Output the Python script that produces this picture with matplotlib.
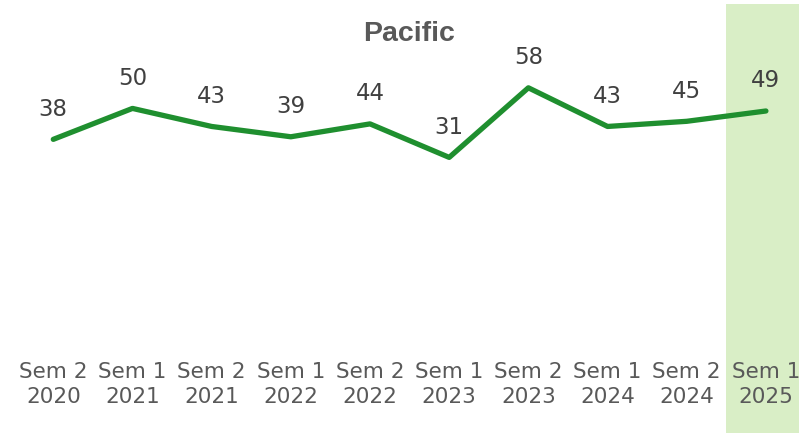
import matplotlib
matplotlib.use("Agg")
import matplotlib.pyplot as plt

categories = ["Sem 2\n2020", "Sem 1\n2021", "Sem 2\n2021", "Sem 1\n2022", "Sem 2\n2022",
              "Sem 1\n2023", "Sem 2\n2023", "Sem 1\n2024", "Sem 2\n2024", "Sem 1\n2025"]
values = [38, 50, 43, 39, 44, 31, 58, 43, 45, 49]
title = "Pacific"
highlight_index = 9

W, H = 799, 433
fig = plt.figure(figsize=(W / 100, H / 100), dpi=100)
left_px, right_px = 13.7, 805.5
top_px, bottom_px = 4, 433
ax = fig.add_axes([left_px / W, 1 - bottom_px / H, (right_px - left_px) / W, (bottom_px - top_px) / H])
ax.set_xlim(-0.5, len(values) - 0.5)
ax.set_ylim(-75.9, 90.5)

ax.axvspan(highlight_index - 0.5, highlight_index + 0.5, color="#d9eec6", zorder=0, lw=0)

x = list(range(len(values)))
ax.plot(x, values, color="#1f8f2f", lw=3.8, solid_capstyle="round", zorder=3)

for xi, v in zip(x, values):
    ax.annotate(str(v), (xi, v), xytext=(0, 17), textcoords="offset points",
                ha="center", va="baseline", fontsize=16.5, color="#404040",
                family="DejaVu Sans")

ax.set_xticks(x)
ax.set_xticklabels(categories, fontsize=15.5, color="#595959", family="DejaVu Sans",
                   linespacing=1.3)
ax.tick_params(axis="x", length=0, pad=-51)
ax.set_yticks([])
for s in ax.spines.values():
    s.set_visible(False)
ax.patch.set_alpha(0)

fig.text(409 / W, 1 - 34 / H, title, ha="center", va="center", fontsize=20.5,
         fontweight="bold", color="#595959", family="Liberation Sans")

fig.savefig("out.png", dpi=100)
